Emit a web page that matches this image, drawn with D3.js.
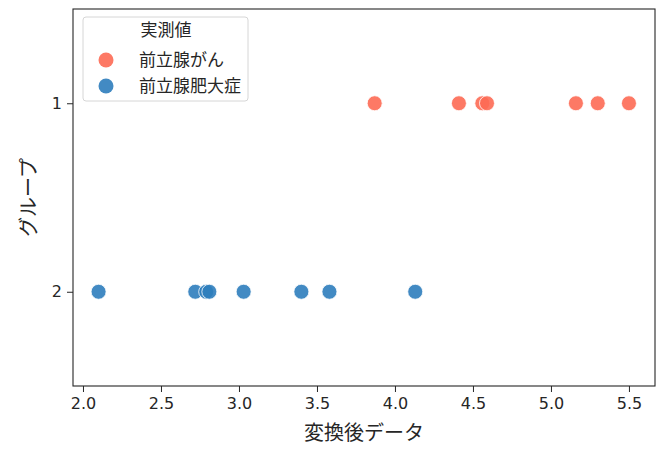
<!DOCTYPE html>
<html>
<head>
<meta charset="utf-8">
<script src="https://cdn.jsdelivr.net/npm/d3@7"></script>
<style>
  body { margin: 0; background: #fff; }
  text { font-family: "Noto Sans CJK JP", "Noto Sans", sans-serif; fill: #262626; }
</style>
</head>
<body>
<div id="chart"></div>
<script>
var groups = ['1', '2'];
var seriesNames = ['前立腺がん', '前立腺肥大症'];
var cancerValues = [3.87, 4.41, 4.56, 4.59, 5.16, 5.30, 5.50];
var bphValues = [2.10, 2.72, 2.79, 2.81, 3.03, 3.40, 3.58, 4.13];
var xTicks = [2.0, 2.5, 3.0, 3.5, 4.0, 4.5, 5.0, 5.5];
var colors = ['#fd6a54', '#2d7dbd'];

var width = 671, height = 453;
var margin = { top: 9, right: 16, bottom: 67, left: 73 };

var svg = d3.select('#chart')
    .append('svg')
    .attr('width', width)
    .attr('height', height);

var x = d3.scaleLinear()
    .domain([1.936, 5.667])
    .range([margin.left, width - margin.right]);

var y = d3.scalePoint()
    .domain(groups)
    .range([margin.top, height - margin.bottom])
    .padding(0.5);

var points = [];
cancerValues.forEach(function(v) { points.push({ value: v, group: '1', s: 0 }); });
bphValues.forEach(function(v) { points.push({ value: v, group: '2', s: 1 }); });

// axes
var xAxis = svg.append('g')
    .attr('transform', 'translate(0,' + (height - margin.bottom) + ')')
    .call(d3.axisBottom(x).tickValues(xTicks).tickFormat(d3.format('.1f')).tickSizeOuter(0).tickSize(6).tickPadding(6));

var yAxis = svg.append('g')
    .attr('transform', 'translate(' + margin.left + ',0)')
    .call(d3.axisLeft(y).tickSizeOuter(0).tickSize(6).tickPadding(5));

[xAxis, yAxis].forEach(function(a) {
    a.selectAll('text')
        .style('font-size', '16px')
        .style('font-family', '"DejaVu Sans", sans-serif')
        .style('fill', '#262626');
    a.selectAll('line').attr('stroke', '#262626');
    a.select('.domain').remove();
});

svg.append('rect')
    .attr('x', margin.left)
    .attr('y', margin.top)
    .attr('width', width - margin.left - margin.right)
    .attr('height', height - margin.top - margin.bottom)
    .attr('fill', 'none')
    .attr('stroke', '#262626')
    .attr('stroke-width', 1.1);

svg.selectAll('.dot')
    .data(points)
    .enter()
    .append('circle')
    .attr('class', 'dot')
    .attr('cx', function(d) { return x(d.value); })
    .attr('cy', function(d) { return y(d.group); })
    .attr('r', 7.5)
    .attr('fill', function(d) { return colors[d.s]; })
    .attr('fill-opacity', 0.9)
    .attr('stroke', '#fff')
    .attr('stroke-width', 0.8);

svg.append('text')
    .attr('x', (margin.left + width - margin.right) / 2)
    .attr('y', 440)
    .attr('text-anchor', 'middle')
    .style('font-size', '20px')
    .text('変換後データ');

svg.append('text')
    .attr('transform', 'translate(36,' + ((margin.top + height - margin.bottom) / 2) + ') rotate(-90)')
    .attr('text-anchor', 'middle')
    .style('font-size', '20px')
    .text('グループ');

// legend
var legend = svg.append('g').attr('transform', 'translate(83,17)');
legend.append('rect')
    .attr('width', 165)
    .attr('height', 84)
    .attr('rx', 3)
    .attr('fill', '#fff')
    .attr('fill-opacity', 0.8)
    .attr('stroke', '#d6d6d6');
legend.append('text')
    .attr('x', 83)
    .attr('y', 19)
    .attr('text-anchor', 'middle')
    .style('font-size', '17px')
    .text('実測値');
seriesNames.forEach(function(name, i) {
    var row = legend.append('g').attr('transform', 'translate(0,' + (43 + i * 26) + ')');
    row.append('circle')
        .attr('cx', 23)
        .attr('cy', 0)
        .attr('r', 7.5)
        .attr('fill', colors[i])
        .attr('fill-opacity', 0.9);
    row.append('text')
        .attr('x', 56)
        .attr('y', 6)
        .style('font-size', '17px')
        .text(name);
});
</script>
</body>
</html>
